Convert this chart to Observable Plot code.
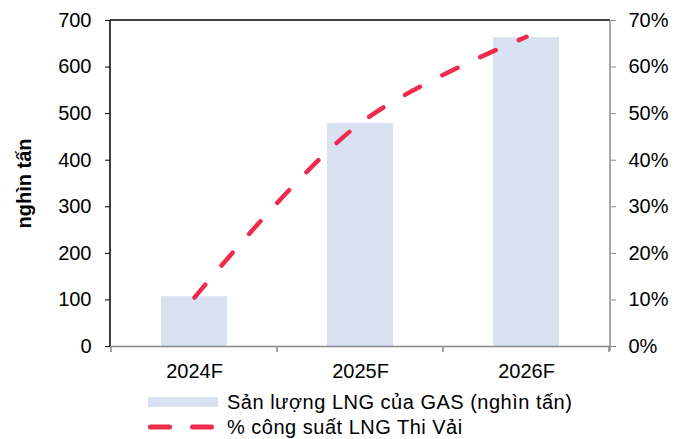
<!DOCTYPE html>
<html><head><meta charset="utf-8">
<script src="https://cdn.jsdelivr.net/npm/d3@7"></script>
<script src="https://cdn.jsdelivr.net/npm/@observablehq/plot@0.6"></script>
<style>
body{margin:0;background:#fff;font-family:"Liberation Sans",Arial,sans-serif;}
#wrap{position:relative;width:687px;height:439px;overflow:hidden;}
#chart{position:absolute;left:0;top:0;}
#legend{position:absolute;left:148px;top:389px;font-size:20px;letter-spacing:0.5px;color:#000;line-height:22px;}
.row{display:flex;align-items:center;height:25px;white-space:nowrap;}
.sw{width:70px;height:10px;margin-right:9px;flex:none;}
</style></head><body>
<div id="wrap"><div id="chart"></div><div id="legend"></div></div>
<script>
const years = ["2024F", "2025F", "2026F"];
const volume = [107, 479, 663];          // nghìn tấn
const capacityPct = [10.5, 48, 66.5];    // %
const leftTicks = [0, 100, 200, 300, 400, 500, 600, 700];
const rightTicks = [0, 10, 20, 30, 40, 50, 60, 70];
const yLabel = "nghìn tấn";
const barName = "Sản lượng LNG của GAS (nghìn tấn)";
const lineName = "% công suất LNG Thi Vải";
const barColor = "#d9e2f3";
const lineColor = "#ee2b4e";

const data = years.map((y, i) => ({year: y, value: volume[i], pct: capacityPct[i]}));

const plot = Plot.plot({
  width: 687,
  height: 385,
  marginTop: 20,
  marginBottom: 39,
  marginLeft: 110,
  marginRight: 77,
  style: {fontFamily: "'Liberation Sans', Arial, sans-serif", fontSize: "20px", color: "#000", background: "#fff"},
  x: {domain: years, paddingInner: 0.6, paddingOuter: 0.3, label: null},
  y: {domain: [0, 700], label: null},
  marks: [
    Plot.barY(data, {x: "year", y: "value", fill: barColor}),
    Plot.line(data, {x: "year", y: d => d.pct * 10, stroke: lineColor, strokeWidth: 4.5,
      strokeDasharray: "17,25", strokeLinecap: "round", curve: "catmull-rom"}),
    Plot.axisY({ticks: leftTicks, tickSize: 5, tickPadding: 14, fontSize: 20, label: null, stroke: "#000", fill: "#000"}),
    Plot.axisY({anchor: "right", ticks: rightTicks.map(v => v * 10), tickFormat: d => (d / 10) + "%",
      tickSize: 5, tickPadding: 13, fontSize: 20, label: null, stroke: "#888", fill: "#000"}),
    Plot.axisX({tickSize: 0, tickPadding: 17, fontSize: 20, label: null, fill: "#000"}),
    Plot.text([yLabel], {frameAnchor: "left", textAnchor: "middle", rotate: -90, dx: -86,
      fontWeight: "bold", fontSize: 20, fill: "#000", letterSpacing: "0.5px"})
  ]
});

// axis lines and category-boundary ticks derived from the scales
const xs = plot.scale("x"), ys = plot.scale("y");
const x0 = xs.range[0], x1 = xs.range[1];
const yb = ys.apply(0), yt = ys.apply(700);
const svg = d3.select(plot);
const g = svg.append("g").attr("fill", "none");
g.append("line").attr("x1", x0).attr("x2", x1).attr("y1", yb + 0.5).attr("y2", yb + 0.5).attr("stroke", "#888").attr("stroke-width", 1.5);
g.append("line").attr("x1", x0).attr("x2", x1).attr("y1", yt).attr("y2", yt).attr("stroke", "#000").attr("stroke-width", 1.5);
g.append("line").attr("x1", x0).attr("x2", x0).attr("y1", yt).attr("y2", yb).attr("stroke", "#000").attr("stroke-width", 1.5);
g.append("line").attr("x1", x1).attr("x2", x1).attr("y1", yt).attr("y2", yb + 5).attr("stroke", "#888").attr("stroke-width", 1.5);
const bounds = years.map(y => xs.apply(y) + xs.bandwidth / 2 - xs.step / 2);
bounds.push(xs.apply(years[years.length - 1]) + xs.bandwidth / 2 + xs.step / 2);
bounds.forEach(b => g.append("line").attr("x1", b).attr("x2", b).attr("y1", yb).attr("y2", yb + 6).attr("stroke", "#888").attr("stroke-width", 1.5));

document.getElementById("chart").appendChild(plot);

// legend
const legend = document.getElementById("legend");
legend.innerHTML = `
<div class="row"><div class="sw" style="background:${barColor}"></div><span>${barName}</span></div>
<div class="row"><svg class="sw" width="70" height="10" style="overflow:visible"><line x1="2.5" x2="70" y1="5" y2="5" stroke="${lineColor}" stroke-width="5" stroke-linecap="round" stroke-dasharray="19,23"/></svg><span>${lineName}</span></div>`;
</script>
</body></html>
